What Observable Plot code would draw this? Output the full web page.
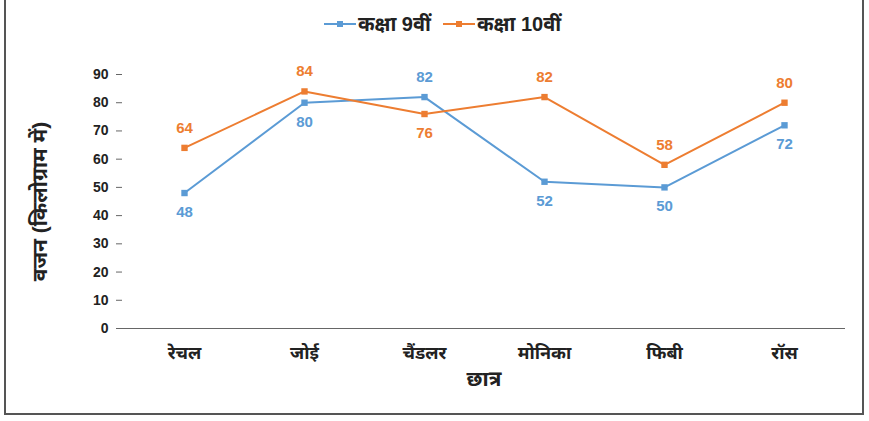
<!DOCTYPE html>
<html><head><meta charset="utf-8">
<script src="https://cdn.jsdelivr.net/npm/d3@7"></script>
<script src="https://cdn.jsdelivr.net/npm/@observablehq/plot@0.6"></script>
<style>
body{margin:0;background:#fff;font-family:"Liberation Sans","Noto Sans",sans-serif;}
#wrap{position:relative;width:869px;height:421px;overflow:hidden;}
#border{position:absolute;left:4px;top:-2px;width:856px;height:413px;border:2px solid #555;box-sizing:content-box;}
#legend{position:absolute;top:10px;left:8px;width:869px;text-align:center;font-weight:bold;font-size:20px;color:#222;}
.li{display:inline-flex;align-items:center;margin:0 6px;}
.sw{position:relative;width:32px;height:14px;margin-right:2px;}
.sw .ln{position:absolute;left:0;top:6px;width:32px;height:2px;}
.sw .mk{position:absolute;left:13px;top:4px;width:6px;height:6px;}
#chart{position:absolute;left:0;top:0;}
</style></head><body>
<div id="wrap"><div id="border"></div><div id="legend"></div><div id="chart"></div></div>
<script>
const students = ["रेचल","जोई","चैंडलर","मोनिका","फिबी","रॉस"];
const class9 = [48,80,82,52,50,72];
const class10 = [64,84,76,82,58,80];
const seriesNames = ["कक्षा 9वीं","कक्षा 10वीं"];
const colors = ["#5b9bd5","#ed7d31"];
const yTicks = [0,10,20,30,40,50,60,70,80,90];
const yTitle = "वजन (किलोग्राम में)";
const xTitle = "छात्र";

const data = [];
students.forEach((s,i)=>{
  data.push({student:s, series:seriesNames[0], value:class9[i], other:class10[i]});
  data.push({student:s, series:seriesNames[1], value:class10[i], other:class9[i]});
});
const above = data.filter(d=>d.value>=d.other);
const below = data.filter(d=>d.value<d.other);

const leg = document.getElementById("legend");
seriesNames.forEach((n,i)=>{
  const el=document.createElement("span");el.className="li";
  el.innerHTML=`<span class="sw"><span class="ln" style="background:${colors[i]}"></span><span class="mk" style="background:${colors[i]}"></span></span>${n}`;
  leg.appendChild(el);
});

const plot = Plot.plot({
  width:869, height:421,
  marginLeft:122, marginRight:24, marginTop:74, marginBottom:93,
  style:{fontFamily:"'Liberation Sans','Noto Sans',sans-serif", background:"transparent"},
  x:{type:"point", domain:students, padding:0.5, label:null},
  y:{domain:[0,90], ticks:yTicks, label:null},
  color:{domain:seriesNames, range:colors},
  marks:[
    Plot.ruleY([0],{stroke:"#666",strokeWidth:1.2}),
    Plot.ruleX([0],{frameAnchor:"left",y1:0,y2:90,stroke:"#666",strokeWidth:1.2}),
    Plot.axisY({ticks:yTicks, tickSize:6, tickPadding:8, fontSize:14, fontWeight:"bold", fill:"#222", stroke:"#666", label:null}),
    Plot.axisX({tickSize:0, tickPadding:18, fontSize:18, fontWeight:"bold", fill:"#222", label:null}),
    Plot.line(data,{x:"student", y:"value", z:"series", stroke:"series", strokeWidth:2}),
    Plot.dot(data,{x:"student", y:"value", fill:"series", symbol:"square", r:3.6, stroke:null}),
    Plot.text(above,{x:"student", y:"value", text:"value", fill:"series", dy:-20, fontSize:15, fontWeight:"bold"}),
    Plot.text(below,{x:"student", y:"value", text:"value", fill:"series", dy:19, fontSize:15, fontWeight:"bold"}),
    Plot.text([yTitle],{frameAnchor:"left", textAnchor:"middle", dx:-82, rotate:-90, fontSize:21, fontWeight:"bold", fill:"#222"}),
    Plot.text([xTitle],{frameAnchor:"bottom", dx:0, dy:57, fontSize:21, fontWeight:"bold", fill:"#222"})
  ]
});
document.getElementById("chart").appendChild(plot);
</script>
</body></html>
